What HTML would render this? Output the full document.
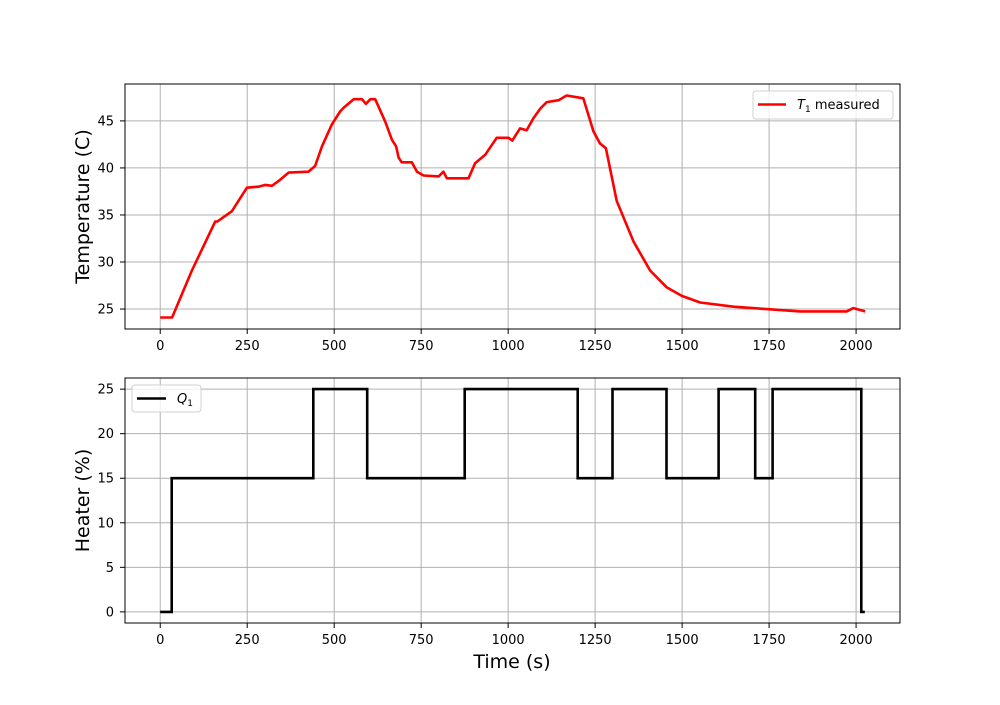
<!DOCTYPE html>
<html><head><meta charset="utf-8"><style>
body{margin:0;background:#fff}
svg text{font-family:"DejaVu Sans","Liberation Sans",sans-serif}
</style></head><body>
<svg id="chart" width="1000" height="700" xmlns="http://www.w3.org/2000/svg"></svg>
<script>
const tempTime=[0,34,91,158,164,206,249,282,302,321,340,369,426,445,465,493,517,527,556,580,591,604,618,647,666,678,685,694,723,738,757,800,814,824,886,905,934,967,1001,1012,1034,1053,1073,1092,1111,1145,1168,1216,1245,1264,1281,1312,1360,1408,1456,1499,1552,1648,1743,1839,1973,1992,2026];
const tempValues=[24.1,24.1,29.1,34.3,34.3,35.4,37.9,38.0,38.2,38.1,38.6,39.5,39.6,40.2,42.3,44.6,46.0,46.4,47.3,47.3,46.8,47.3,47.3,44.9,43.0,42.3,41.1,40.6,40.6,39.6,39.2,39.1,39.6,38.9,38.9,40.5,41.4,43.2,43.2,42.9,44.2,44.0,45.3,46.3,47.0,47.2,47.7,47.4,43.9,42.6,42.1,36.5,32.2,29.1,27.3,26.4,25.7,25.25,25.0,24.75,24.75,25.1,24.75];
const heatTime=[0,33,440,595,875,1200,1300,1455,1605,1710,1760,2015,2025];
const heatValues=[0,15,25,15,25,15,25,15,25,15,25,0,0];
const xTicks=[0,250,500,750,1000,1250,1500,1750,2000];
const tempTicks=[25,30,35,40,45];
const heatTicks=[0,5,10,15,20,25];

const svg=document.getElementById('chart');
const NS='http://www.w3.org/2000/svg';
function el(tag,attrs,parent){const e=document.createElementNS(NS,tag);for(const k in attrs)e.setAttribute(k,attrs[k]);(parent||svg).appendChild(e);return e;}
const L=125,R=900,xmin=-101.25,xmax=2126.25;
const sx=v=>L+(v-xmin)/(xmax-xmin)*(R-L);

function panel(top,bot,ymin,ymax,yticks,ylabel,name){
  const sy=v=>bot-(v-ymin)/(ymax-ymin)*(bot-top);
  const g=el('g',{});
  
  
  xTicks.forEach(t=>{
    const gl=el('line',{x1:sx(t),x2:sx(t),y1:top,y2:bot,stroke:'#b0b0b0','stroke-width':1},g);
    
    
    el('line',{x1:sx(t),x2:sx(t),y1:bot,y2:bot+5,stroke:'#000','stroke-width':1},g);
    const tx=el('text',{x:sx(t),y:bot+21,'font-size':13,'text-anchor':'middle'},g);
    tx.textContent=t;
    
    
  });
  yticks.forEach(t=>{
    const gl=el('line',{x1:L,x2:R,y1:sy(t),y2:sy(t),stroke:'#b0b0b0','stroke-width':1},g);
    
    
    el('line',{x1:L-5,x2:L,y1:sy(t),y2:sy(t),stroke:'#000','stroke-width':1},g);
    const tx=el('text',{x:L-11,y:sy(t)+4.5,'font-size':13,'text-anchor':'end'},g);
    tx.textContent=t;
    
    
  });
  const yl=el('text',{x:0,y:0,'font-size':19,'text-anchor':'middle',transform:`translate(89,${(top+bot)/2}) rotate(-90)`},g);
  yl.textContent=ylabel;
  
  
  return {g,sy};
}

const p1=panel(84,329,22.88,48.92,tempTicks,'Temperature (C)','temperature');
let d='';tempTime.forEach((t,i)=>{d+=(i?'L':'M')+sx(t).toFixed(1)+','+p1.sy(tempValues[i]).toFixed(1);});
const tl=el('path',{d:d,fill:'none',stroke:'#ff0000','stroke-width':2.6,'stroke-linejoin':'round'});


const b1=el('rect',{x:L,y:84,width:R-L,height:245,fill:'none',stroke:'#000','stroke-width':1});



const p2=panel(378,623,-1.25,26.25,heatTicks,'Heater (%)','heater');
d='';heatTime.forEach((t,i)=>{
  const x=sx(t).toFixed(1),y=p2.sy(heatValues[i]).toFixed(1);
  if(i===0)d+='M'+x+','+y;else d+='L'+x+','+p2.sy(heatValues[i-1]).toFixed(1)+'L'+x+','+y;
});
const hl=el('path',{d:d,fill:'none',stroke:'#000','stroke-width':2.6});


const b2=el('rect',{x:L,y:378,width:R-L,height:245,fill:'none',stroke:'#000','stroke-width':1});



const xt=el('text',{x:512,y:668,'font-size':19,'text-anchor':'middle'});
xt.textContent='Time (s)';



const lg1=el('g',{});


el('rect',{x:753,y:91,width:140,height:28,rx:3,fill:'#fff','fill-opacity':0.8,stroke:'#d0d0d0'},lg1);
el('line',{x1:758,x2:786,y1:104.5,y2:104.5,stroke:'#ff0000','stroke-width':2.6},lg1);
const lt1=el('text',{x:797,y:109,'font-size':13},lg1);
lt1.innerHTML='<tspan font-style="italic">T</tspan><tspan font-size="9" dy="3">1</tspan><tspan dy="-3"> measured</tspan>';



const lg2=el('g',{});


el('rect',{x:132,y:385,width:69,height:27,rx:3,fill:'#fff','fill-opacity':0.8,stroke:'#d0d0d0'},lg2);
el('line',{x1:137,x2:166,y1:398.5,y2:398.5,stroke:'#000','stroke-width':2.6},lg2);
const lt2=el('text',{x:177,y:403,'font-size':13},lg2);
lt2.innerHTML='<tspan font-style="italic">Q</tspan><tspan font-size="9" dy="3">1</tspan>';


</script>
</body></html>
